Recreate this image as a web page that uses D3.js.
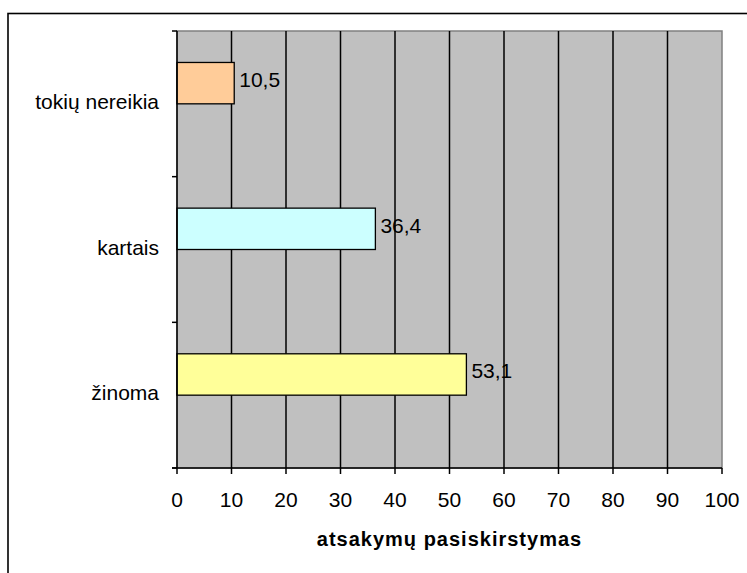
<!DOCTYPE html>
<html>
<head>
<meta charset="utf-8">
<script src="https://cdn.jsdelivr.net/npm/d3@7"></script>
<style>
  body { margin: 0; background: #fff; }
  text { font-family: "Liberation Sans", Arial, sans-serif; }
</style>
</head>
<body>
<svg id="chart" width="747" height="573"></svg>
<script>
// categories from top to bottom
const categories = ["tokių nereikia", "kartais", "žinoma"];
const values = [10.5, 36.4, 53.1];
const valueLabels = ["10,5", "36,4", "53,1"];
const barColors = ["#FFCC99", "#CCFFFF", "#FFFF99"];
const xTicks = [0, 10, 20, 30, 40, 50, 60, 70, 80, 90, 100];
const axisTitle = "atsakymų pasiskirstymas";

const svg = d3.select("#chart");

const plot = { left: 177, top: 31, right: 722, bottom: 468 };

// outer frame (right and bottom edges run off the picture)
svg.append("rect")
    .attr("x", 8).attr("y", 13.5)
    .attr("width", 780).attr("height", 600)
    .attr("fill", "none")
    .attr("stroke", "#000")
    .attr("stroke-width", 1.6);

const x = d3.scaleLinear()
    .domain([0, 100])
    .range([plot.left, plot.right]);

const y = d3.scaleBand()
    .domain(categories)
    .range([plot.top, plot.bottom]);

// plot area
svg.append("rect")
    .attr("x", plot.left).attr("y", plot.top)
    .attr("width", plot.right - plot.left)
    .attr("height", plot.bottom - plot.top)
    .attr("fill", "#C0C0C0")
    .attr("stroke", "#808080")
    .attr("stroke-width", 1.5);

// vertical gridlines
svg.append("g")
  .selectAll("line")
  .data(xTicks.filter((d) => d > 0 && d < 100))
  .enter().append("line")
    .attr("x1", (d) => x(d)).attr("x2", (d) => x(d))
    .attr("y1", plot.top).attr("y2", plot.bottom)
    .attr("stroke", "#000")
    .attr("stroke-width", 1.5);

// bars sit in the upper half of each band (second series is empty)
const gap = y.bandwidth() * 0.216;
const barH = y.bandwidth() / 2 - gap;

svg.append("g")
  .selectAll("rect")
  .data(categories)
  .enter().append("rect")
    .attr("x", x(0))
    .attr("y", (d) => y(d) + gap)
    .attr("width", (d, i) => x(values[i]) - x(0))
    .attr("height", barH)
    .attr("fill", (d, i) => barColors[i])
    .attr("stroke", "#000")
    .attr("stroke-width", 1.3);

// value labels
svg.append("g")
  .selectAll("text")
  .data(categories)
  .enter().append("text")
    .attr("x", (d, i) => x(values[i]) + 5)
    .attr("y", (d) => y(d) + gap + barH / 2 + 4)
    .style("font-size", "21px")
    .attr("fill", "#000")
    .text((d, i) => valueLabels[i]);

// left axis
const yAxis = svg.append("g");
yAxis.append("line")
    .attr("x1", plot.left).attr("x2", plot.left)
    .attr("y1", plot.top).attr("y2", plot.bottom)
    .attr("stroke", "#000").attr("stroke-width", 1.5);
yAxis.selectAll("line.tick")
  .data(categories.map((d) => y(d)).concat([plot.bottom]))
  .enter().append("line")
    .attr("class", "tick")
    .attr("x1", plot.left - 5).attr("x2", plot.left)
    .attr("y1", (d) => d).attr("y2", (d) => d)
    .attr("stroke", "#000").attr("stroke-width", 1.5);
yAxis.selectAll("text")
  .data(categories)
  .enter().append("text")
    .attr("x", plot.left - 18)
    .attr("y", (d) => y(d) + y.bandwidth() / 2 + 5)
    .attr("text-anchor", "end")
    .style("font-size", "21px")
    .text((d) => d);

// bottom axis
const xAxis = svg.append("g");
xAxis.append("line")
    .attr("x1", plot.left - 5).attr("x2", plot.right)
    .attr("y1", plot.bottom).attr("y2", plot.bottom)
    .attr("stroke", "#000").attr("stroke-width", 1.5);
xAxis.selectAll("line.tick")
  .data(xTicks)
  .enter().append("line")
    .attr("class", "tick")
    .attr("x1", (d) => x(d)).attr("x2", (d) => x(d))
    .attr("y1", plot.bottom).attr("y2", plot.bottom + 6)
    .attr("stroke", "#000").attr("stroke-width", 1.5);
xAxis.selectAll("text")
  .data(xTicks)
  .enter().append("text")
    .attr("x", (d) => x(d))
    .attr("y", 507)
    .attr("text-anchor", "middle")
    .style("font-size", "21px")
    .text((d) => d);

svg.append("text")
    .attr("x", (plot.left + plot.right) / 2)
    .attr("y", 546)
    .attr("text-anchor", "middle")
    .style("font-size", "20px")
    .style("font-weight", "bold")
    .style("letter-spacing", "1px")
    .text(axisTitle);
</script>
</body>
</html>
